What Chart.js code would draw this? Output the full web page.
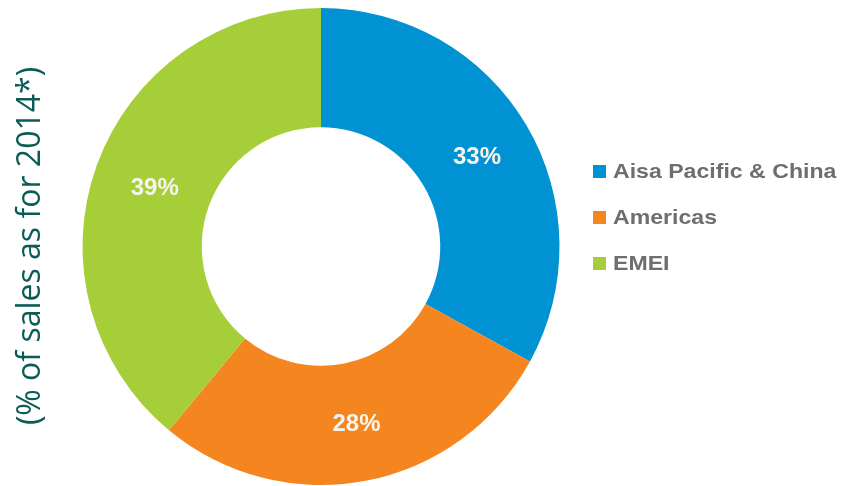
<!DOCTYPE html>
<html>
<head>
<meta charset="utf-8">
<script src="https://cdn.jsdelivr.net/npm/chart.js@4"></script>
<style>
  html, body { margin: 0; padding: 0; background: #fff; }
  #wrap { width: 845px; height: 486px; position: relative; }
</style>
</head>
<body>
<div id="wrap"><canvas id="myChart"></canvas></div>
<script>
const regions = ["Aisa Pacific & China", "Americas", "EMEI"];
const shares = [33, 28, 39];
const colors = ["#0092d2", "#f5861f", "#a6ce39"];
const axisTitle = "(% of sales as for 2014*)";

// white percentage labels in the middle of each slice
const sliceLabels = {
    id: "sliceLabels",
    afterDatasetsDraw(chart) {
        const c = chart.ctx;
        const meta = chart.getDatasetMeta(0);
        c.save();
        c.fillStyle = "#f6f4ee";
        c.font = "bold 24px 'Liberation Sans', Arial, sans-serif";
        c.textAlign = "center";
        c.textBaseline = "middle";
        meta.data.forEach((arc, i) => {
            const p = arc.getCenterPoint();
            c.fillText(shares[i] + "%", p.x + 2, p.y + 2);
        });
        c.restore();
    }
};

// legend on the right and rotated title on the left
const sideText = {
    id: "sideText",
    afterDraw(chart) {
        const c = chart.ctx;
        c.save();
        c.font = "bold 21px 'Liberation Sans', Arial, sans-serif";
        c.textBaseline = "middle";
        regions.forEach((r, i) => {
            const y = 171 + i * 46;
            c.fillStyle = colors[i];
            c.fillRect(593, y - 6, 13, 13);
            c.save();
            c.translate(613, y + 1);
            c.scale(1.1, 1);   // reference text is a bit wider than Arial
            c.fillStyle = "#6d6e71";
            c.fillText(r, 0, 0);
            c.restore();
        });
        c.translate(31, 246);
        c.rotate(-Math.PI / 2);
        c.font = "32px 'Open Sans', sans-serif";
        c.fillStyle = "#0b5c57";
        c.textAlign = "center";
        c.fillText(axisTitle, 0, 0);
        c.restore();
    }
};

new Chart(document.getElementById("myChart"), {
    type: "doughnut",
    data: {
        labels: regions,
        datasets: [{
            data: shares,
            backgroundColor: colors,
            borderWidth: 0
        }]
    },
    options: {
        responsive: true,
        maintainAspectRatio: false,
        animation: false,
        cutout: "50%",
        layout: { padding: { left: 82, right: 285, top: 8, bottom: 1 } },
        plugins: {
            legend: { display: false },
            tooltip: { enabled: false }
        }
    },
    plugins: [sliceLabels, sideText]
});
</script>
</body>
</html>
